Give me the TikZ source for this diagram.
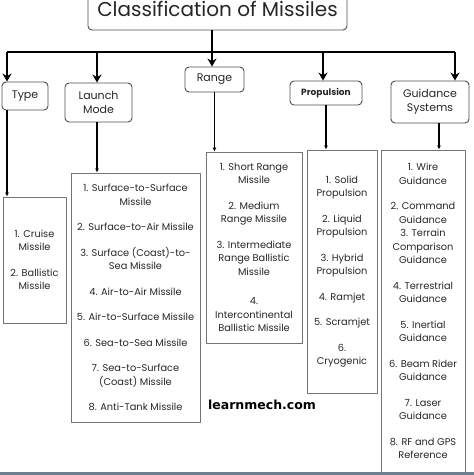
\documentclass[tikz,border=0pt]{standalone}
\usepackage{fontspec}
\setmainfont{Poppins}
\newfontfamily\markfont{DejaVu Sans}
\usetikzlibrary{arrows.meta}
\definecolor{stripcol}{HTML}{6E7F8E}

\begin{document}
\begin{tikzpicture}[
        x = 1pt, y = -1pt,
        line join=round,
        headbox/.style = {draw=black!70, line width=0.9pt, rounded corners=4pt, align=center, inner sep=0pt, text=black!85, font=\fontsize{11}{14}\selectfont},
        listbox/.style = {draw=black!55, line width=0.9pt, align=center, inner sep=0pt, text=black!85, font=\fontsize{9.8}{13.5}\selectfont},
        toparrow/.style = {line width=1.6pt, -{Stealth[length=8pt, width=9pt]}},
        subarrow/.style = {line width=1.2pt, -{Latex[length=4pt, width=4pt]}}
    ]

    \useasboundingbox (0, 0) rectangle (474, 475);

    \coordinate (barL) at (7, 52);
    \coordinate (barR) at (455, 52);
    \coordinate (stem) at (212, 52);
    \coordinate (launchdrop) at (97, 52);
    \coordinate (propdrop) at (323, 52);
    \coordinate (guidedrop) at (439, 52);

    \node[headbox, minimum width=259pt, minimum height=42pt, font=\fontsize{20}{22}\selectfont] (title) at (217.5, 9) {Classification of Missiles};

    \node[headbox, minimum width=46pt, minimum height=28pt] (type) at (25, 96) {Type};
    \node[headbox, minimum width=67pt, minimum height=39pt] (launch) at (98.5, 102.5) {Launch\\Mode};
    \node[headbox, minimum width=59pt, minimum height=25pt] (range) at (214.5, 79.5) {Range};
    \node[headbox, minimum width=72pt, minimum height=24pt, font=\bfseries\fontsize{9}{12}\selectfont] (prop) at (326, 93) {Propulsion};
    \node[headbox, minimum width=78pt, minimum height=42pt] (guide) at (430, 102) {Guidance\\Systems};

    \node[listbox, minimum width=63pt, minimum height=126pt] (typelist) at (34.5, 260)
        {1. Cruise\\Missile\\[12pt]2. Ballistic\\Missile};
    \node[listbox, minimum width=129pt, minimum height=249pt] (launchlist) at (135.5, 297.5)
        {1. Surface-to-Surface\\Missile\\[12pt]2. Surface-to-Air Missile\\[12pt]3. Surface (Coast)-to-\\Sea Missile\\[12pt]4. Air-to-Air Missile\\[12pt]5. Air-to-Surface Missile\\[12pt]6. Sea-to-Sea Missile\\[12pt]7. Sea-to-Surface\\(Coast) Missile\\[12pt]8. Anti-Tank Missile};
    \node[listbox, minimum width=96pt, minimum height=191pt] (rangelist) at (254, 247.5)
        {1. Short Range\\Missile\\[12pt]2. Medium\\Range Missile\\[12pt]3. Intermediate\\Range Ballistic\\Missile\\[16pt]4.\\Intercontinental\\Ballistic Missile};
    \node[listbox, minimum width=70pt, minimum height=243pt] (proplist) at (342, 271.5)
        {1. Solid\\Propulsion\\[12pt]2. Liquid\\Propulsion\\[12pt]3. Hybrid\\Propulsion\\[12pt]4. Ramjet\\[12pt]5. Scramjet\\[12pt]6.\\Cryogenic};
    \node[listbox, minimum width=84pt, minimum height=322pt] (guidelist) at (423, 311)
        {1. Wire\\Guidance\\[12pt]2. Command\\Guidance\\3. Terrain\\Comparison\\Guidance\\[12pt]4. Terrestrial\\Guidance\\[12pt]5. Inertial\\Guidance\\[12pt]6. Beam Rider\\Guidance\\[12pt]7. Laser\\Guidance\\[12pt]8. RF and GPS\\Reference};

    \draw[line width=1.6pt] (barL) -- (barR);
    \draw[toparrow] (title.south -| stem) -- (stem |- range.north);
    \draw[toparrow] (barL) -- (barL |- type.north);
    \draw[toparrow] (launchdrop) -- (launchdrop |- launch.north);
    \draw[toparrow] (propdrop) -- (propdrop |- prop.north);
    \draw[toparrow] (barR) -- (barR |- guide.north);

    \draw[subarrow] (type.south -| barL) -- (barL |- typelist.north);
    \draw[subarrow] (launch.south -| launchdrop) -- (launchdrop |- launchlist.north);
    \draw[subarrow] (range.south) -- (range.south |- rangelist.north);
    \draw[subarrow] (prop.south) -- (prop.south |- proplist.north);
    \draw[subarrow] (guide.south -| guidedrop) -- (guidedrop |- guidelist.north);

    \node[font=\markfont\bfseries\fontsize{12.5}{14}\selectfont] (mark) at (262, 405) {learnmech.com};

    \fill[stripcol] (0, 472) rectangle (474, 475);
\end{tikzpicture}
\end{document}
